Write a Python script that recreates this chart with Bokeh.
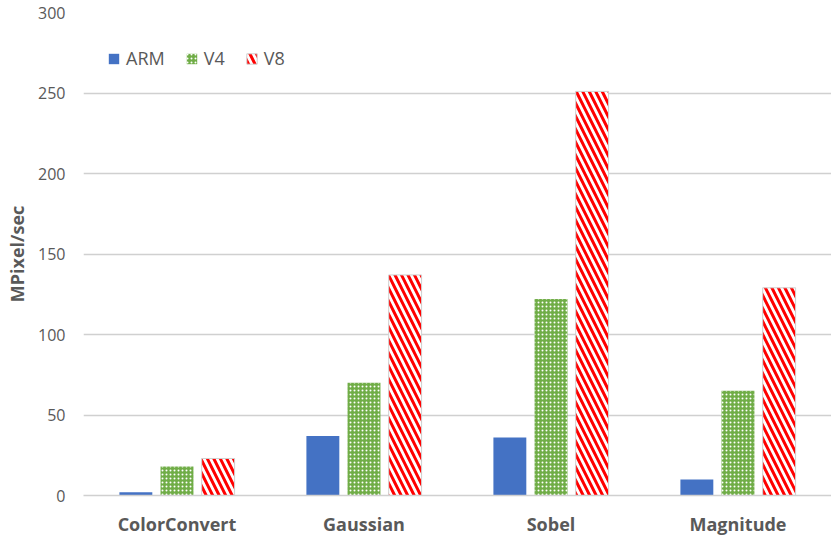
from bokeh.plotting import figure
from bokeh.models import ColumnDataSource, FactorRange, Range1d, Legend, LegendItem, FixedTicker
from bokeh.transform import dodge
from bokeh.embed import file_html
from bokeh.resources import INLINE

categories = ["ColorConvert", "Gaussian", "Sobel", "Magnitude"]
arm = [2, 37, 36, 10]
v4 = [18, 70, 122, 65]
v8 = [23, 137, 251, 129]
series_names = ["ARM", "V4", "V8"]
y_ticks = [0, 50, 100, 150, 200, 250, 300]

source = ColumnDataSource(dict(cat=categories, arm=arm, v4=v4, v8=v8))

FONT = "Open Sans"
GRAY = "#595959"

p = figure(x_range=FactorRange(*categories, range_padding=0),
           y_range=Range1d(0, 300),
           width=831, height=538,
           output_backend="svg", toolbar_location=None,
           min_border_left=83, min_border_right=0, min_border_top=12, min_border_bottom=43)

bw = 0.176
off = 0.22
r_arm = p.vbar(x=dodge("cat", -off, range=p.x_range), top="arm", width=bw, source=source,
               fill_color="#4472C4", line_color=None)
r_v4 = p.vbar(x=dodge("cat", 0, range=p.x_range), top="v4", width=bw, source=source,
              fill_color="#70AD47", line_color=None,
              hatch_pattern="dot", hatch_color="white", hatch_scale=4, hatch_weight=1)
r_v8 = p.vbar(x=dodge("cat", off, range=p.x_range), top="v8", width=bw, source=source,
              fill_color="white", line_color="#D0D0D0", line_width=1,
              hatch_pattern="left_diagonal_line", hatch_color="#FF0000", hatch_scale=13, hatch_weight=3)

legend = Legend(items=[LegendItem(label=series_names[0], renderers=[r_arm]),
                       LegendItem(label=series_names[1], renderers=[r_v4]),
                       LegendItem(label=series_names[2], renderers=[r_v8])],
                orientation="horizontal", location=(24, 425),
                glyph_width=13, glyph_height=13, label_standoff=6, spacing=20,
                padding=0, margin=0, border_line_color=None, background_fill_alpha=0,
                label_text_font=FONT, label_text_font_size="18px", label_text_color=GRAY)
p.add_layout(legend)

p.outline_line_color = None
p.xgrid.grid_line_color = None
p.ygrid.grid_line_color = "#D0D0D0"
p.ygrid.grid_line_width = 1.3
p.yaxis.ticker = FixedTicker(ticks=y_ticks)

p.yaxis.axis_line_color = None
p.yaxis.major_tick_line_color = None
p.yaxis.minor_tick_line_color = None
p.yaxis.major_tick_out = 0
p.yaxis.major_label_standoff = 18
p.yaxis.major_label_text_font = FONT
p.yaxis.major_label_text_font_size = "16px"
p.yaxis.major_label_text_color = GRAY
p.yaxis.axis_label = "MPixel/sec"
p.yaxis.axis_label_text_font = FONT
p.yaxis.axis_label_text_font_size = "18px"
p.yaxis.axis_label_text_font_style = "bold"
p.yaxis.axis_label_text_color = GRAY
p.yaxis.axis_label_standoff = 6

p.xaxis.axis_line_color = "#D0D0D0"
p.xaxis.axis_line_width = 1.3
p.xaxis.major_tick_line_color = None
p.xaxis.minor_tick_line_color = None
p.xaxis.major_tick_out = 0
p.xaxis.major_label_standoff = 16
p.xaxis.major_label_text_font = FONT
p.xaxis.major_label_text_font_size = "18px"
p.xaxis.major_label_text_font_style = "bold"
p.xaxis.major_label_text_color = GRAY

open("out.html", "w").write(file_html(p, INLINE))
